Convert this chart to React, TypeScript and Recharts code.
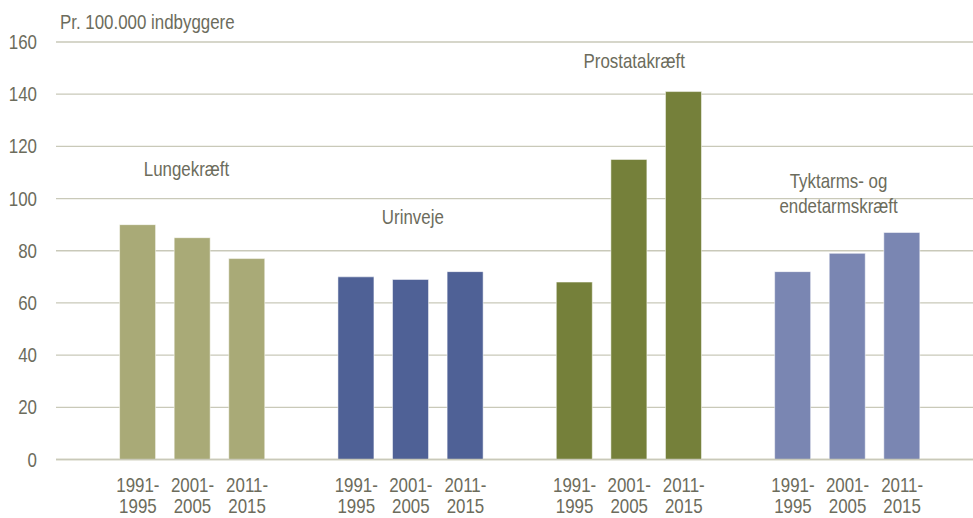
import React from "react";
import { BarChart, Bar, XAxis, YAxis, CartesianGrid, Cell, ReferenceDot } from "recharts";

const periods = ["1991-|1995", "2001-|2005", "2011-|2015"];
const groupNames = ["Lungekræft", "Urinveje", "Prostatakræft", "Tyktarms- og|endetarmskræft"];
const lunge = [90, 85, 77];
const urinveje = [70, 69, 72];
const prostata = [68, 115, 141];
const tyktarm = [72, 79, 87];
const groupColors = ["#A9AA77", "#4F6196", "#75803A", "#7A86B2"];
const yTicks = [0, 20, 40, 60, 80, 100, 120, 140, 160];
// label anchor values (y in data units) for group names
const nameLevels = [111.3, 92.8, 152.7, 102];

const FONT = "'Liberation Sans', Arial, sans-serif";
const TEXT = "#6C6C5C";
const FS = 20;
const SX = 0.845;

type Row = { id: string; label: string; value: number | null; group: number };

const allSeries = [lunge, urinveje, prostata, tyktarm];
const data: Row[] = [];
data.push({ id: "blank0", label: "", value: null, group: -1 });
allSeries.forEach((series, g) => {
  series.forEach((v, i) => {
    data.push({ id: `g${g}p${i}`, label: periods[i], value: v, group: g });
  });
  data.push({ id: `blank${g + 1}`, label: "", value: null, group: -1 });
});

const labelMap: Record<string, string> = {};
data.forEach((d) => (labelMap[d.id] = d.label));

const NText = ({ x, y, anchor, children }: { x: number; y: number; anchor: string; children: any }) => (
  <text
    transform={`translate(${x},${y}) scale(${SX},1)`}
    x={0}
    y={0}
    dy="0.355em"
    textAnchor={anchor as any}
    fill={TEXT}
    fontFamily={FONT}
    fontSize={FS}
  >
    {children}
  </text>
);

const XTick = (props: any) => {
  const { x, y, payload } = props;
  const lbl = labelMap[payload.value] || "";
  if (!lbl) return null;
  const [a, b] = lbl.split("|");
  return (
    <g>
      <NText x={x} y={y + 17} anchor="middle">{a}</NText>
      <NText x={x} y={y + 38.5} anchor="middle">{b}</NText>
    </g>
  );
};

const YTick = (props: any) => {
  const { x, y, payload } = props;
  return <NText x={x} y={y} anchor="end">{payload.value}</NText>;
};

const GroupLabel = (text: string, dx: number) => (props: any) => {
  const { viewBox } = props;
  const cx = (viewBox.x ?? 0) + (viewBox.width ?? 0) / 2 + dx;
  const cy = (viewBox.y ?? 0) + (viewBox.height ?? 0) / 2;
  const lines = text.split("|");
  return (
    <g>
      {lines.map((l, i) => (
        <NText key={i} x={cx} y={cy + (i - (lines.length - 1) / 2) * 25} anchor="middle">
          {l}
        </NText>
      ))}
    </g>
  );
};

const labelDx = [-6, 2, 5, -9];

export default function App() {
  return (
    <div style={{ position: "absolute", left: 0, top: 0, width: 973, height: 518, overflow: "hidden", background: "#fff" }}>
      <BarChart
        width={984}
        height={518}
        data={data}
        margin={{ top: 42, right: 0, bottom: 0, left: 0 }}
        barSize={36}
      >
        <CartesianGrid vertical={false} stroke="#C9C9B9" strokeWidth={1.3} />
        <XAxis
          dataKey="id"
          interval={0}
          axisLine={{ stroke: "#C9C9B9", strokeWidth: 1.3 }}
          tickLine={false}
          height={58.5}
          tick={<XTick />}
        />
        <YAxis
          width={56}
          domain={[0, 160]}
          ticks={yTicks}
          axisLine={false}
          tickLine={false}
          tickMargin={13}
          tick={<YTick />}
          allowDataOverflow
        />
        <Bar dataKey="value" isAnimationActive={false} stroke="#ffffff" strokeOpacity={0.5} strokeWidth={1}>
          {data.map((d) => (
            <Cell key={d.id} fill={d.group >= 0 ? groupColors[d.group] : "none"} />
          ))}
        </Bar>
        {groupNames.map((name, g) => (
          <ReferenceDot
            key={name}
            x={`g${g}p1`}
            y={nameLevels[g]}
            r={0}
            fill="none"
            stroke="none"
            label={GroupLabel(name, labelDx[g])}
          />
        ))}
        <NText x={60} y={22} anchor="start">Pr. 100.000 indbyggere</NText>
      </BarChart>
    </div>
  );
}
